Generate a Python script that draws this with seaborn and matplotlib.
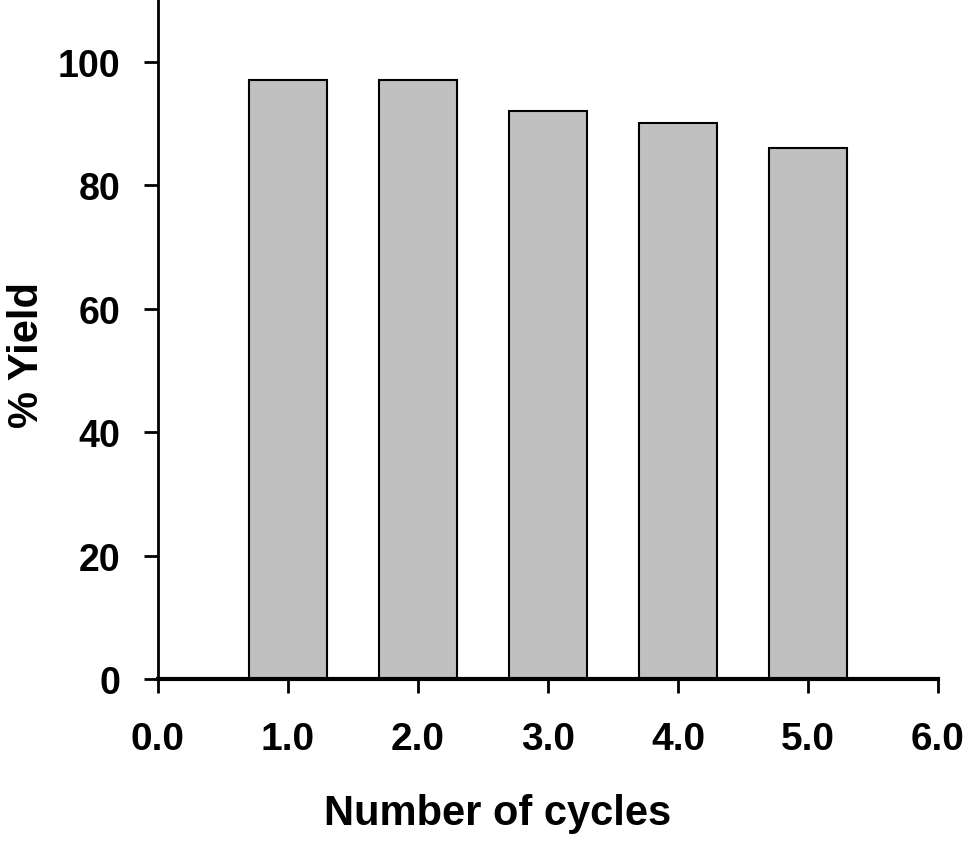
"""Bar chart of yield over repeated catalyst cycles."""
import matplotlib
matplotlib.use("Agg")
import matplotlib.pyplot as plt
import seaborn as sns
import pandas as pd

cycles = [1.0, 2.0, 3.0, 4.0, 5.0]
yields = [97, 97, 92, 90, 86]
x_ticks = [0.0, 1.0, 2.0, 3.0, 4.0, 5.0, 6.0]
y_ticks = [0, 20, 40, 60, 80, 100]

sns.set_theme(style="ticks")
plt.rcParams["font.family"] = ["Liberation Sans", "DejaVu Sans"]
plt.rcParams["font.weight"] = "bold"
plt.rcParams["text.color"] = "black"
plt.rcParams["axes.labelcolor"] = "black"
plt.rcParams["xtick.color"] = "black"
plt.rcParams["ytick.color"] = "black"
plt.rcParams["axes.edgecolor"] = "black"

df = pd.DataFrame({"cycle": cycles, "yield": yields})

fig = plt.figure(figsize=(9.69, 8.45), dpi=100)
ax = fig.add_axes([0.163, 0.195, 0.805, 0.804])

sns.barplot(data=df, x="cycle", y="yield", native_scale=True, width=0.6,
            color="#c0c0c0", saturation=1, edgecolor="black", linewidth=1.5, ax=ax)

ax.set_xlim(0, 6)
ax.set_ylim(0, 110)
ax.set_xticks(x_ticks)
ax.set_xticklabels([f"{v:.1f}" for v in x_ticks])
ax.set_yticks(y_ticks)
ax.tick_params(axis="both", labelsize=27, length=10, width=2, direction="out")
ax.tick_params(axis="x", labelsize=28, pad=20)
ax.tick_params(axis="y", pad=17)
for lab in ax.get_xticklabels() + ax.get_yticklabels():
    lab.set_fontweight("bold")

for s in ["top", "right"]:
    ax.spines[s].set_visible(False)
ax.spines["left"].set_linewidth(2)
ax.spines["bottom"].set_linewidth(3)

ax.set_xlabel("Number of cycles", fontsize=30, fontweight="bold", labelpad=26)
ax.set_ylabel("% Yield", fontsize=30, fontweight="bold", labelpad=8)
# labels in the original sit a bit off the axis centre
ax.xaxis.label.set_x(0.436)
ax.yaxis.label.set_y(0.479)

fig.savefig("out.png", dpi=100)
